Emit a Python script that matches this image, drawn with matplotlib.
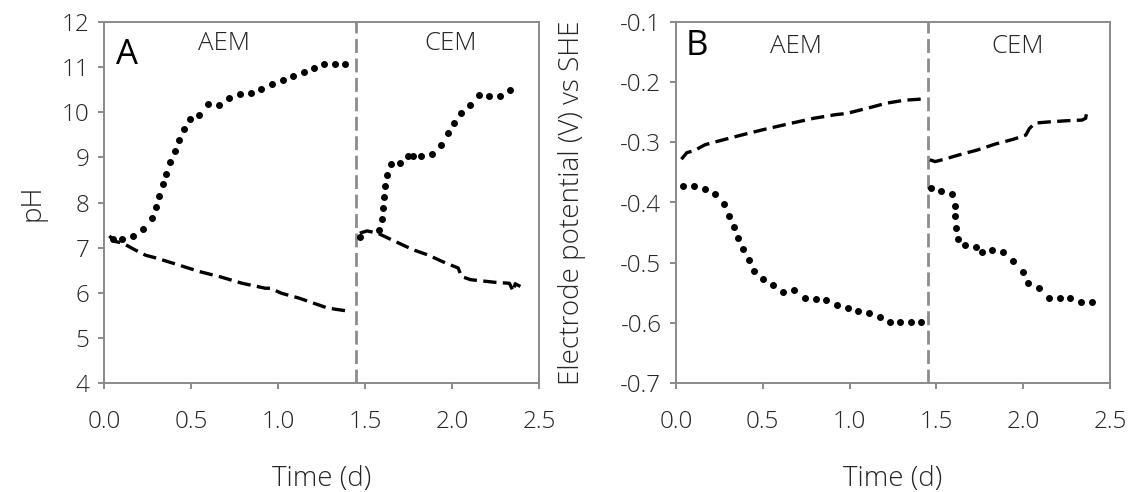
import matplotlib
matplotlib.use("Agg")
import matplotlib.pyplot as plt

plt.rcParams['font.family'] = ['Open Sans', 'DejaVu Sans']

# ---- Panel A: pH ----
ph_aem_dot_t = [0.051, 0.103, 0.164, 0.226, 0.275, 0.297, 0.318, 0.338, 0.357, 0.381, 0.406, 0.431,
                0.457, 0.496, 0.548, 0.599, 0.662, 0.720, 0.781, 0.845, 0.902, 0.964, 1.030, 1.087,
                1.148, 1.208, 1.265, 1.329, 1.386]
ph_aem_dot = [7.19, 7.19, 7.26, 7.42, 7.65, 7.90, 8.15, 8.40, 8.64, 8.89, 9.14, 9.38,
              9.62, 9.85, 9.95, 10.18, 10.15, 10.32, 10.40, 10.42, 10.51, 10.63, 10.72, 10.80,
              10.90, 10.99, 11.08, 11.06, 11.06]
ph_cem_dot_t = [1.470, 1.583, 1.600, 1.606, 1.610, 1.616, 1.626, 1.647, 1.700, 1.747, 1.778, 1.823,
                1.887, 1.934, 1.977, 2.010, 2.049, 2.104, 2.155, 2.213, 2.276, 2.336]
ph_cem_dot = [7.24, 7.39, 7.63, 7.87, 8.13, 8.37, 8.62, 8.86, 8.87, 9.02, 9.03, 9.02,
              9.08, 9.28, 9.54, 9.77, 9.99, 10.16, 10.39, 10.35, 10.37, 10.49]
ph_aem_dash_t = [0.031, 0.060, 0.107, 0.178, 0.240, 0.300, 0.425, 0.548, 0.671, 0.794, 0.927, 0.957,
                 1.019, 1.122, 1.204, 1.286, 1.409]
ph_aem_dash = [7.26, 7.14, 7.10, 6.95, 6.83, 6.77, 6.62, 6.47, 6.35, 6.21, 6.10, 6.10,
               5.99, 5.88, 5.77, 5.66, 5.59]
ph_cem_dash_t = [1.470, 1.511, 1.573, 1.655, 1.778, 1.860, 1.963, 2.035, 2.055, 2.106, 2.250, 2.330,
                 2.352, 2.363, 2.393]
ph_cem_dash = [7.32, 7.37, 7.32, 7.17, 6.95, 6.84, 6.66, 6.55, 6.36, 6.29, 6.23, 6.21,
               6.03, 6.20, 6.14]

# ---- Panel B: electrode potential ----
ep_aem_dot_t = [0.042, 0.102, 0.165, 0.226, 0.276, 0.305, 0.332, 0.357, 0.388, 0.422, 0.451, 0.503,
                0.556, 0.618, 0.681, 0.741, 0.804, 0.865, 0.929, 0.990, 1.051, 1.113, 1.174, 1.232,
                1.293, 1.355, 1.414]
ep_aem_dot = [-0.372, -0.373, -0.377, -0.386, -0.403, -0.422, -0.440, -0.459, -0.477, -0.495, -0.514, -0.527,
              -0.537, -0.548, -0.546, -0.558, -0.561, -0.562, -0.570, -0.575, -0.580, -0.584, -0.590, -0.598,
              -0.598, -0.599, -0.599]
ep_cem_dot_t = [1.470, 1.529, 1.587, 1.606, 1.608, 1.612, 1.627, 1.667, 1.729, 1.765, 1.821, 1.884,
                1.940, 1.997, 2.030, 2.093, 2.149, 2.210, 2.272, 2.335, 2.396]
ep_cem_dot = [-0.376, -0.381, -0.386, -0.405, -0.423, -0.442, -0.460, -0.470, -0.474, -0.482, -0.479, -0.483,
              -0.498, -0.515, -0.534, -0.542, -0.558, -0.558, -0.558, -0.565, -0.565]
ep_aem_dash_t = [0.031, 0.063, 0.104, 0.167, 0.230, 0.376, 0.501, 0.668, 0.794, 0.919, 0.982, 1.107,
                 1.211, 1.316, 1.420]
ep_aem_dash = [-0.328, -0.317, -0.314, -0.304, -0.299, -0.288, -0.279, -0.268, -0.260, -0.254, -0.252, -0.243,
               -0.235, -0.230, -0.228]
ep_cem_dash_t = [1.462, 1.493, 1.546, 1.629, 1.733, 1.838, 1.942, 2.015, 2.036, 2.068, 2.151, 2.256,
                 2.339, 2.360, 2.364]
ep_cem_dash = [-0.329, -0.332, -0.328, -0.321, -0.313, -0.303, -0.295, -0.288, -0.277, -0.268, -0.266, -0.264,
               -0.263, -0.260, -0.252]

switch_time = 1.45
x_ticks = [0.0, 0.5, 1.0, 1.5, 2.0, 2.5]
x_ticklabels = ["0.0", "0.5", "1.0", "1.5", "2.0", "2.5"]
ph_ticks = [4, 5, 6, 7, 8, 9, 10, 11, 12]
ep_ticks = [-0.7, -0.6, -0.5, -0.4, -0.3, -0.2, -0.1]
ep_ticklabels = ["-0.7", "-0.6", "-0.5", "-0.4", "-0.3", "-0.2", "-0.1"]

W, H = 1130, 492
fig = plt.figure(figsize=(W / 100, H / 100), dpi=100)
axA = fig.add_axes([104 / W, (H - 383) / H, 435 / W, 361 / H])
axB = fig.add_axes([676 / W, (H - 383) / H, 434 / W, 361 / H])

spine_c = '#8a8a8a'
text_c = '#262626'
fs = 17.5
fs_lab = 20
fs_ann = 18.5

def style(ax):
    for s in ax.spines.values():
        s.set_color(spine_c)
        s.set_linewidth(1.4)
    ax.tick_params(axis='both', colors=spine_c, labelcolor=text_c, labelsize=fs,
                   width=1.4, length=4.5, direction='out')
    ax.tick_params(axis='x', pad=15)
    ax.tick_params(axis='y', pad=6)
    ax.set_xlim(0, 2.5)
    ax.set_xticks(x_ticks)
    ax.set_xticklabels(x_ticklabels)
    ax.axvline(switch_time, color='#8c8c8c', lw=2.0, dashes=(5, 2))
    ax.set_xlabel("Time (d)", fontsize=fs_lab, color=text_c, fontweight='light')
    ax.xaxis.set_label_coords(0.5, -0.265)
    ax.xaxis.label.set_va('center')

dot_kw = dict(linestyle='none', marker='o', ms=4.0, color='black', mec='black')
dash_kw = dict(color='black', lw=2.4, dashes=(4.0, 1.9))

# Panel A
style(axA)
axA.set_ylim(4, 12)
axA.set_yticks(ph_ticks)
axA.plot(ph_aem_dot_t, ph_aem_dot, **dot_kw)
axA.plot(ph_cem_dot_t, ph_cem_dot, **dot_kw)
axA.plot(ph_aem_dash_t, ph_aem_dash, **dash_kw)
axA.plot(ph_cem_dash_t, ph_cem_dash, **dash_kw)
axA.set_ylabel("pH", fontsize=fs_lab, color=text_c, fontweight='light')
axA.yaxis.set_label_coords(-0.165, 0.5)
axA.yaxis.label.set_va('center')
axA.text(0.13, 11.27, "A", fontsize=25, ha='center', va='center', color='black')
axA.text(0.69, 11.53, "AEM", fontsize=fs_ann, ha='center', va='center', color=text_c, fontweight='light')
axA.text(1.99, 11.53, "CEM", fontsize=fs_ann, ha='center', va='center', color=text_c, fontweight='light')

# Panel B
style(axB)
axB.set_ylim(-0.7, -0.1)
axB.set_yticks(ep_ticks)
axB.set_yticklabels(ep_ticklabels)
axB.plot(ep_aem_dot_t, ep_aem_dot, **dot_kw)
axB.plot(ep_cem_dot_t, ep_cem_dot, **dot_kw)
axB.plot(ep_aem_dash_t, ep_aem_dash, **dash_kw)
axB.plot(ep_cem_dash_t, ep_cem_dash, **dash_kw)
axB.set_ylabel("Electrode potential (V) vs SHE", fontsize=fs_lab, color=text_c, fontweight='light')
axB.yaxis.set_label_coords(-0.24, 0.5)
axB.yaxis.label.set_va('center')
axB.text(0.12, -0.14, "B", fontsize=25, ha='center', va='center', color='black')
axB.text(0.69, -0.14, "AEM", fontsize=fs_ann, ha='center', va='center', color=text_c, fontweight='light')
axB.text(1.97, -0.14, "CEM", fontsize=fs_ann, ha='center', va='center', color=text_c, fontweight='light')

for ax in (axA, axB):
    for lab in ax.get_xticklabels() + ax.get_yticklabels():
        lab.set_fontweight('light')

fig.savefig("out.png", dpi=100)
